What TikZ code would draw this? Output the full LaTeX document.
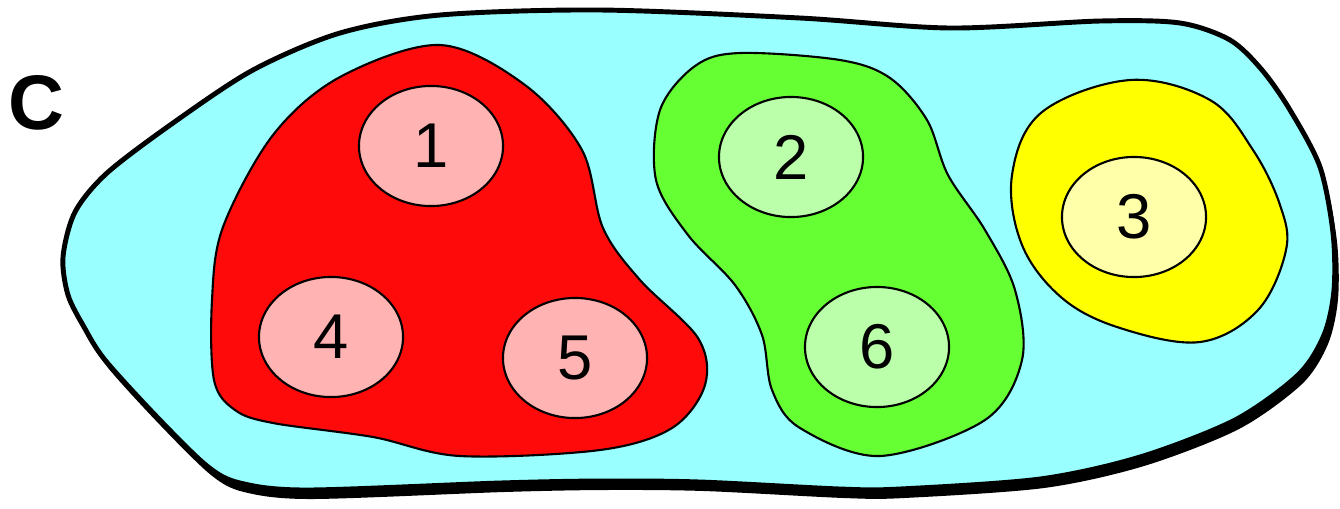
\documentclass[tikz,border=0pt]{standalone}
\usepackage{fontspec}
\setmainfont{Liberation Sans}
\usetikzlibrary{shapes.geometric}

\definecolor{outercyan}{HTML}{99FFFF}
\definecolor{setred}{HTML}{FF0A0A}
\definecolor{elemred}{HTML}{FFB3B3}
\definecolor{setgreen}{HTML}{66FF33}
\definecolor{elemgreen}{HTML}{BBFFAA}
\definecolor{setyellow}{HTML}{FFFF00}
\definecolor{elemyellow}{HTML}{FFFFAA}

\tikzset{
  elem/.style={ellipse,draw=black,line width=0.6pt,minimum width=1.44cm,minimum height=1.2cm,inner sep=0pt,font=\fontsize{18}{20}\selectfont},
  blob/.style={draw=black,line width=0.6pt}
}

\begin{document}
\begin{tikzpicture}[x=0.01cm,y=-0.01cm]
	\useasboundingbox (0,0) rectangle (1340,508);
	
	% Define the outer set with its shadow
	\fill[black,shift={(4,9)}] plot[smooth cycle,tension=0.5] coordinates {(63,257) (75,212) (107,173) (173,123) (253,70) (340,33) (440,15) (600,10) (800,18) (950,28) (1100,21) (1180,23) (1230,40) (1262,70) (1290,110) (1320,167) (1333,233) (1334,290) (1324,335) (1298,375) (1235,420) (1140,457) (1040,479) (900,489) (840,489) (700,482) (600,481) (500,483) (307,490) (240,483) (207,466) (157,417) (105,360) (84,327) (68,295)};
	\filldraw[fill=outercyan,draw=black,line width=1.4pt] plot[smooth cycle,tension=0.5] coordinates {(63,257) (75,212) (107,173) (173,123) (253,70) (340,33) (440,15) (600,10) (800,18) (950,28) (1100,21) (1180,23) (1230,40) (1262,70) (1290,110) (1320,167) (1333,233) (1334,290) (1324,335) (1298,375) (1235,420) (1140,457) (1040,479) (900,489) (840,489) (700,482) (600,481) (500,483) (307,490) (240,483) (207,466) (157,417) (105,360) (84,327) (68,295)};
	
	% Draw the three inner sets
	\filldraw[blob,fill=setred] plot[smooth cycle,tension=0.55] coordinates {(440,45) (525,85) (582,150) (603,228) (640,280) (698,338) (705,385) (672,428) (600,450) (460,456) (373,437) (273,423) (235,410) (214,380) (212,300) (223,227) (273,135) (340,77)};
	\filldraw[blob,fill=setgreen] plot[smooth cycle,tension=0.55] coordinates {(740,53) (840,60) (890,78) (927,120) (948,175) (985,230) (1015,290) (1022,360) (985,420) (880,456) (800,428) (772,390) (762,335) (735,285) (688,235) (656,180) (660,110) (695,66)};
	\filldraw[blob,fill=setyellow] plot[smooth cycle,tension=0.6] coordinates {(1130,80) (1210,100) (1253,150) (1280,205) (1286,250) (1258,310) (1200,342) (1120,328) (1062,298) (1022,245) (1012,175) (1042,112)};
	
	% Label the elements
	\node[elem,fill=elemred] (e1) at (431,146) {1};
	\node[elem,fill=elemred] (e4) at (331,337) {4};
	\node[elem,fill=elemred] (e5) at (575,358) {5};
	\node[elem,fill=elemgreen] (e2) at (791,157) {2};
	\node[elem,fill=elemgreen] (e6) at (877,347) {6};
	\node[elem,fill=elemyellow] (e3) at (1134,217) {3};
	
	% Name of the outer set
	\node[font=\fontsize{22}{24}\selectfont\bfseries] (setC) at (36,103) {C};
	
\end{tikzpicture}
\end{document}
